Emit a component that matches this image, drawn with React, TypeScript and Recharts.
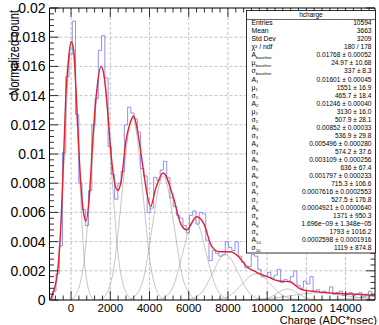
import React from 'react';
import { LineChart, Line, XAxis, YAxis, ReferenceLine } from 'recharts';

const W = 379;
const H = 325;
const X_MIN = -1100;
const X_MAX = 15500;
const Y_MAX = 0.02;
const FONT = '"Liberation Sans", Arial, Helvetica, sans-serif';

// tick labels
const xMajor = [0, 2000, 4000, 6000, 8000, 10000, 12000, 14000];
const xTickLabels = ['0', '2000', '4000', '6000', '8000', '10000', '12000', '14000'];
const yMajor = [0, 0.002, 0.004, 0.006, 0.008, 0.01, 0.012, 0.014, 0.016, 0.018, 0.02];
const yTickLabels = ['0', '0.002', '0.004', '0.006', '0.008', '0.01', '0.012', '0.014', '0.016', '0.018', '0.02'];

// histogram: 100 bins from -1100 to 15500
const HIST_LOW = -1100;
const HIST_WIDTH = 166;
const histValues = [
  0.0001, 0.0006, 0.0018, 0.0037, 0.0101, 0.0153, 0.0168, 0.0191, 0.0127, 0.0080,
  0.0062, 0.0051, 0.0075, 0.0120, 0.0138, 0.0171, 0.0181, 0.0152, 0.0105, 0.0086,
  0.0069, 0.0080, 0.0088, 0.0120, 0.0132, 0.0128, 0.0124, 0.0115, 0.0090, 0.0085,
  0.0060, 0.0063, 0.0084, 0.0082, 0.0089, 0.0095, 0.0084, 0.0070, 0.0064, 0.0058,
  0.0056, 0.0051, 0.0046, 0.0058, 0.0061, 0.0052, 0.0060, 0.0059, 0.0041, 0.0027,
  0.0034, 0.0032, 0.0030, 0.0031, 0.0040, 0.0036, 0.0034, 0.0040, 0.0030, 0.0026,
  0.0022, 0.0023, 0.0031, 0.0030, 0.0021, 0.0016, 0.0016, 0.0019, 0.0015, 0.0017,
  0.0021, 0.0012, 0.0014, 0.0013, 0.0016, 0.0020, 0.0010, 0.0008, 0.0013, 0.0011,
  0.0016, 0.0006, 0.0007, 0.0005, 0.0006, 0.0005, 0.0009, 0.0004, 0.0005, 0.0006,
  0.0003, 0.0004, 0.0005, 0.0003, 0.0004, 0.0005, 0.0002, 0.0004, 0.0006, 0.0003,
];

// total fit (red)
const fitX = [
  -1050, -1000, -850, -680, -510, -375, -255, -136, 0, 136, 255, 374, 510, 646, 765,
  935, 1105, 1275, 1530, 1700, 1870, 2040, 2210, 2380, 2550, 2800, 3060, 3190, 3360,
  3570, 3820, 4050, 4330, 4695, 5200, 5600, 5890, 6400, 6780, 7160, 7550, 8100, 8520,
  8950, 9460, 10000, 10600, 11150, 11700, 12500, 13400, 14300, 15500,
];
const fitY = [
  0.0001, 0.0002, 0.0008, 0.002, 0.0054, 0.01, 0.0143, 0.0164, 0.0177, 0.0171, 0.0143,
  0.0109, 0.0077, 0.0059, 0.0054, 0.0072, 0.0109, 0.0139, 0.016, 0.0152, 0.0129, 0.01,
  0.0081, 0.0075, 0.0081, 0.0109, 0.0123, 0.0126, 0.0118, 0.01, 0.0077, 0.0064, 0.0077,
  0.0087, 0.0071, 0.0052, 0.0048, 0.0057, 0.0052, 0.0037, 0.0033, 0.0033, 0.003, 0.0023,
  0.0019, 0.0016, 0.0013, 0.00125, 0.00075, 0.00057, 0.00046, 0.00041, 0.0003,
];

// single components (grey)
const components: number[][][] = [
  [[-1100, 0], [-986, 0.0002], [-649, 0.0024], [-312, 0.0107], [-144, 0.0156], [25, 0.0177], [194, 0.0156], [362, 0.0107], [699, 0.0024], [1036, 0.0002], [1205, 0]],
  [[-80, 0], [153, 0.0002], [619, 0.0022], [1085, 0.0097], [1318, 0.0141], [1551, 0.016], [1784, 0.0141], [2017, 0.0097], [2483, 0.0022], [2949, 0.0002], [3182, 0]],
  [[1352, 0], [1606, 0.0001], [2114, 0.0017], [2622, 0.0076], [2876, 0.011], [3130, 0.0125], [3384, 0.011], [3638, 0.0076], [4146, 0.0017], [4654, 0.0001], [4908, 0]],
  [[2820, 0], [3089, 0.0001], [3626, 0.00115], [4163, 0.0052], [4432, 0.0075], [4700, 0.0085], [4968, 0.0075], [5237, 0.0052], [5774, 0.00115], [6311, 0.0001], [6580, 0]],
  [[4281, 0], [4568, 0.00006], [5142, 0.00074], [5716, 0.00334], [6003, 0.00485], [6290, 0.0055], [6577, 0.00485], [6864, 0.00334], [7438, 0.00074], [8012, 0.00006], [8299, 0]],
  [[5644, 0], [5962, 0.00003], [6598, 0.00042], [7234, 0.00189], [7552, 0.00274], [7870, 0.00311], [8188, 0.00274], [8506, 0.00189], [9142, 0.00042], [9778, 0.00003], [10096, 0]],
  [[6947, 0], [7305, 0.00002], [8020, 0.00024], [8735, 0.00109], [9092, 0.00159], [9450, 0.0018], [9808, 0.00159], [10165, 0.00109], [10880, 0.00024], [11595, 0.00002], [11953, 0]],
  [[9182, 0], [9446, 0.00001], [9974, 0.0001], [10502, 0.00046], [10766, 0.00067], [11030, 0.00076], [11294, 0.00067], [11558, 0.00046], [12086, 0.0001], [12614, 0.00001], [12878, 0]],
  [[7802, 0], [8487, 0.00001], [9858, 0.00007], [11229, 0.0003], [11915, 0.00043], [12600, 0.00049], [13286, 0.00043], [13971, 0.0003], [15342, 0.00007], [15500, 0.00005]],
  [[12403, 0], [13522, 0.00004], [14641, 0.00016], [15200, 0.00023], [15500, 0.00025]],
];

// stats box
const statLabels: [string, string][] = [
  ['Entries', ''], ['Mean', ''], ['Std Dev', ''], ['χ² / ndf', ''],
  ['A', 'baseline'], ['μ', 'baseline'], ['σ', 'baseline'],
  ['A', '1'], ['μ', '1'], ['σ', '1'],
  ['A', '2'], ['μ', '2'], ['σ', '2'],
  ['A', '3'], ['σ', '3'], ['A', '4'], ['σ', '4'], ['A', '5'], ['σ', '5'],
  ['A', '6'], ['σ', '6'], ['A', '7'], ['σ', '7'], ['A', '8'], ['σ', '8'],
  ['A', '9'], ['σ', '9'], ['A', '10'], ['σ', '10'],
];
const statValues = [
  '10594', '3663', '3209', '180 / 178',
  '0.01768 ± 0.00052', '24.97 ± 10.68', '337 ± 8.3',
  '0.01601 ± 0.00045', '1551 ± 16.9', '465.7 ± 18.4',
  '0.01246 ± 0.00040', '3130 ± 16.0', '507.9 ± 28.1',
  '0.00852 ± 0.00033', '536.9 ± 29.8', '0.005496 ± 0.000280', '574.2 ± 37.6',
  '0.003109 ± 0.000256', '636 ± 67.4', '0.001797 ± 0.000233', '715.3 ± 106.6',
  '0.0007616 ± 0.0002553', '527.5 ± 176.8', '0.0004921 ± 0.0000640', '1371 ± 950.3',
  '1.696e−09 ± 1.348e−05', '1793 ± 1016.2', '0.0002598 ± 0.0001916', '1119 ± 874.8',
];

const histData = histValues.map((v, i) => ({ x: HIST_LOW + i * HIST_WIDTH, y: v }));
histData.push({ x: HIST_LOW + histValues.length * HIST_WIDTH, y: histValues[histValues.length - 1] });
const fitData = fitX.map((x, i) => ({ x, y: fitY[i] }));
const compData = components.map(c => c.map(([x, y]) => ({ x, y })));

const xTicks = Array.from({ length: 41 }, (_, i) => -800 + 400 * i);
const yTicks = Array.from({ length: 51 }, (_, i) => (i * 4) / 10000);

const isXMajor = (v: number) => v % 2000 === 0;
const isYMajor = (v: number) => Math.round(v * 10000) % 20 === 0;

function BottomTick(props: any) {
  const { x, y, payload } = props;
  const v = payload.value;
  const major = isXMajor(v);
  const idx = xMajor.indexOf(v);
  return (
    <g>
      <line x1={x} x2={x} y1={y} y2={y - (major ? 9 : 4.5)} stroke="#000" strokeWidth={0.8} />
      {major && idx >= 0 && (
        <text x={x} y={y + 11.5} textAnchor="middle" fontSize={11.5} fontFamily={FONT} fill="#000">
          {xTickLabels[idx]}
        </text>
      )}
    </g>
  );
}

function TopTick(props: any) {
  const { x, y, payload } = props;
  const major = isXMajor(payload.value);
  return <line x1={x} x2={x} y1={y} y2={y + (major ? 9 : 4.5)} stroke="#000" strokeWidth={0.8} />;
}

function LeftTick(props: any) {
  const { x, y, payload } = props;
  const v = payload.value;
  const major = isYMajor(v);
  const idx = Math.round(v / 0.002);
  return (
    <g>
      <line x1={x} x2={x + (major ? 9 : 4.5)} y1={y} y2={y} stroke="#000" strokeWidth={0.8} />
      {major && (
        <text x={x - 4} y={y} dy="0.36em" textAnchor="end" fontSize={14} fontFamily={FONT} fill="#000">
          {yTickLabels[idx]}
        </text>
      )}
    </g>
  );
}

function RightTick(props: any) {
  const { x, y, payload } = props;
  const major = isYMajor(payload.value);
  return <line x1={x} x2={x - (major ? 9 : 4.5)} y1={y} y2={y} stroke="#000" strokeWidth={0.8} />;
}

function StatsBox() {
  const left = 246.5;
  const right = 375.5;
  const top = 10.5;
  const bottom = 253;
  return (
    <g fontFamily={FONT} fill="#000">
      <rect x={left} y={top} width={right - left} height={bottom - top} fill="#fff" stroke="#000" strokeWidth={0.8} />
      <line x1={left} x2={right} y1={19.5} y2={19.5} stroke="#000" strokeWidth={0.6} />
      <text x={(left + right) / 2} y={17} textAnchor="middle" fontSize={6.5}>hcharge</text>
      {statLabels.map(([sym, sub], i) => {
        const yb = 25.3 + i * 8.03;
        return (
          <g key={i}>
            <text x={left + 5} y={yb} fontSize={6.8}>
              {sym}
              {sub && <tspan fontSize={4.2} dy={1.6}>{sub}</tspan>}
            </text>
            <text x={right - 4} y={yb} textAnchor="end" fontSize={6.6}>{statValues[i]}</text>
          </g>
        );
      })}
    </g>
  );
}

export default function App() {
  return (
    <div style={{ position: 'fixed', left: 0, top: 0, width: W, height: H, background: '#fff' }}>
      <LineChart width={W} height={H} margin={{ top: 7, right: 3, bottom: 0, left: 0 }}>
        <XAxis
          xAxisId="b" type="number" dataKey="x" domain={[X_MIN, X_MAX]} ticks={xTicks} interval={0}
          height={25} tickSize={0} tickMargin={0} tickLine={false}
          axisLine={{ stroke: '#000', strokeWidth: 1 }} tick={(p: any) => <BottomTick {...p} />}
          allowDataOverflow
        />
        <XAxis
          xAxisId="t" orientation="top" type="number" dataKey="x" domain={[X_MIN, X_MAX]} ticks={xTicks} interval={0}
          height={1} tickSize={0} tickMargin={0} tickLine={false}
          axisLine={{ stroke: '#000', strokeWidth: 1 }} tick={(p: any) => <TopTick {...p} />}
          allowDataOverflow
        />
        <YAxis
          yAxisId="l" type="number" domain={[0, Y_MAX]} ticks={yTicks} interval={0}
          width={49.5} tickSize={0} tickMargin={0} tickLine={false}
          axisLine={{ stroke: '#000', strokeWidth: 1 }} tick={(p: any) => <LeftTick {...p} />}
          allowDataOverflow
        />
        <YAxis
          yAxisId="r" orientation="right" type="number" domain={[0, Y_MAX]} ticks={yTicks} interval={0}
          width={1} tickSize={0} tickMargin={0} tickLine={false}
          axisLine={{ stroke: '#000', strokeWidth: 1 }} tick={(p: any) => <RightTick {...p} />}
          allowDataOverflow
        />
        {xMajor.map(v => (
          <ReferenceLine key={'gx' + v} xAxisId="b" yAxisId="l" x={v} stroke="#b4b4b4" strokeWidth={0.8} strokeDasharray="3 2" />
        ))}
        {yMajor.slice(1, -1).map(v => (
          <ReferenceLine key={'gy' + v} xAxisId="b" yAxisId="l" y={v} stroke="#b4b4b4" strokeWidth={0.8} strokeDasharray="3 2" />
        ))}
        {compData.map((d, i) => (
          <Line
            key={'c' + i} xAxisId="b" yAxisId="l" data={d} dataKey="y" type="monotone"
            stroke="#a0a0a0" strokeWidth={0.6} dot={false} isAnimationActive={false}
          />
        ))}
        <Line
          xAxisId="b" yAxisId="l" data={histData} dataKey="y" type="stepAfter"
          stroke="#8585f2" strokeWidth={0.9} dot={false} isAnimationActive={false}
        />
        <Line
          xAxisId="b" yAxisId="l" data={fitData} dataKey="y" type="monotone"
          stroke="#e4202a" strokeWidth={1.4} dot={false} isAnimationActive={false}
        />
      </LineChart>
      <svg width={W} height={H} style={{ position: 'absolute', left: 0, top: 0, pointerEvents: 'none' }}>
        <StatsBox />
        <text
          transform="translate(19,10) scale(1.3,1) rotate(-90)" textAnchor="end"
          fontSize={11} fontFamily={FONT} fill="#000"
        >
          Normalized count
        </text>
        <text x={377} y={324} textAnchor="end" fontSize={11} fontFamily={FONT} fill="#000">
          Charge (ADC*nsec)
        </text>
      </svg>
    </div>
  );
}
